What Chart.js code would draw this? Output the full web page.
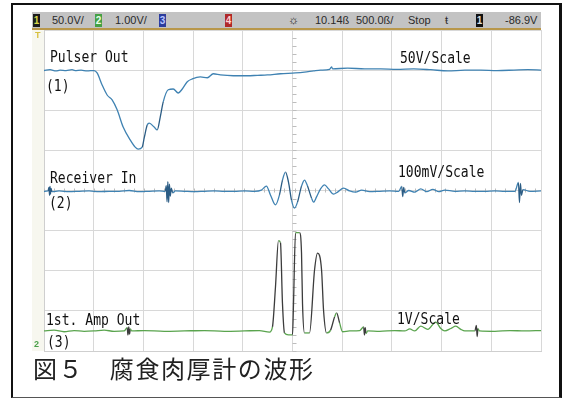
<!DOCTYPE html>
<html>
<head>
<meta charset="utf-8">
<script src="https://cdn.jsdelivr.net/npm/chart.js"></script>
<style>
  body{margin:0;width:567px;height:399px;background:#fff;position:relative;overflow:hidden;}
  #frame{position:absolute;left:11px;top:3px;width:546px;height:392px;border:2px solid #111;border-right-width:3px;border-bottom:1px solid #555;}
  #bar{position:absolute;left:32px;top:12px;width:509px;height:17px;background:#c3c3c3;}
  #gold{position:absolute;left:32px;top:28px;width:509px;height:2px;background:#b8974a;}
  #strip{position:absolute;left:32px;top:30px;width:12px;height:321px;background:#f7f7ef;}
  .st{position:absolute;top:14px;font:11px "Liberation Sans",sans-serif;color:#2a2a2a;line-height:13px;white-space:nowrap;}
  .bd{position:absolute;top:14px;width:7px;height:13px;font:bold 10px "Liberation Sans",sans-serif;line-height:13px;text-align:center;}
  .lb{position:absolute;font:15px "DejaVu Sans Mono",monospace;line-height:15px;color:#111;white-space:nowrap;transform:scaleX(0.87);transform-origin:0 0;}
  #cap{position:absolute;left:33px;top:356px;font:24px "Noto Sans CJK JP",sans-serif;line-height:24px;letter-spacing:1.6px;color:#222;white-space:nowrap;}
  #chart{position:absolute;left:0;top:0;}
  .mk{position:absolute;font:bold 9px "Liberation Sans",sans-serif;line-height:9px;}
</style>
</head>
<body>
<div id="frame"></div>
<div id="bar"></div>
<div id="gold"></div>
<div id="strip"></div>

<div class="bd" style="left:33px;background:#1c1c1c;color:#d8d84a">1</div>
<div class="st" style="left:52px">50.0V/</div>
<div class="bd" style="left:95px;background:#45a045;color:#e8ffe8">2</div>
<div class="st" style="left:115px">1.00V/</div>
<div class="bd" style="left:159px;background:#2c3c9c;color:#b8c4ff">3</div>
<div class="bd" style="left:225px;background:#b02828;color:#ffd0d0">4</div>
<div class="st" style="left:288px;font-size:12px">☼</div>
<div class="st" style="left:315px">10.14ß</div>
<div class="st" style="left:356px">500.0ß/</div>
<div class="st" style="left:408px">Stop</div>
<div class="st" style="left:445px">ŧ</div>
<div class="bd" style="left:476px;background:#111;color:#ddd">1</div>
<div class="st" style="left:505px">-86.9V</div>

<canvas id="chart" width="567" height="399"></canvas>

<div class="mk" style="left:35px;top:31px;color:#d8c040">T</div>
<div class="mk" style="left:34px;top:340px;color:#4aa04a">2</div>

<div class="lb" style="left:50px;top:50px">Pulser Out</div>
<div class="lb" style="left:46px;top:79px">(1)</div>
<div class="lb" style="left:400px;top:51px">50V/Scale</div>
<div class="lb" style="left:50px;top:171px">Receiver In</div>
<div class="lb" style="left:49px;top:196px">(2)</div>
<div class="lb" style="left:398px;top:165px">100mV/Scale</div>
<div class="lb" style="left:46px;top:313px">1st. Amp Out</div>
<div class="lb" style="left:47px;top:335px">(3)</div>
<div class="lb" style="left:397px;top:312px">1V/Scale</div>

<div id="cap">図５　腐食肉厚計の波形</div>

<script>
// time in ns, level in screen divisions (0 = centre line)
const pulserOut = [
  [0,2.99],[60,3.01],[120,2.98],[160,3.00],[220,2.99],[280,3.01],[310,2.99],[370,3.00],[430,2.98],[500,2.99],
  [530,2.93],[580,2.63],[630,2.38],[680,2.26],[730,2.01],[790,1.58],[860,1.26],[910,1.08],[940,1.03],[980,1.08],
  [1000,1.31],[1030,1.63],[1050,1.68],[1100,1.58],[1130,1.51],[1160,1.83],[1190,2.21],[1240,2.51],[1290,2.53],
  [1340,2.43],[1380,2.53],[1430,2.71],[1480,2.78],[1560,2.83],[1630,2.81],[1690,2.91],[1760,2.88],[1890,2.86],
  [2030,2.86],[2130,2.87],[2230,2.88],[2360,2.91],[2510,2.93],[2600,2.95],[2690,2.98],[2760,3.00],[2850,3.02],
  [2870,3.08],[2880,3.03],[3030,3.05],[3200,3.03],[3360,3.03],[3520,3.02],[3690,3.03],[3860,3.01],[4030,2.98],
  [4200,3.00],[4360,3.00],[4520,2.99],[4690,3.00],[4830,3.01],[4960,3.00]
];

const receiverIn = [
  [0,-0.02],[40,-0.01],[50,0.08],[55,-0.12],[60,0.10],[65,-0.09],[70,0.05],[80,-0.03],[150,-0.01],[250,-0.03],
  [350,-0.02],[450,-0.01],[550,-0.03],[650,-0.02],[750,-0.02],[850,0.00],[950,-0.03],[1050,-0.02],[1150,-0.01],
  [1210,-0.02],[1220,0.12],[1228,-0.28],[1236,0.22],[1244,-0.30],[1252,0.16],[1260,-0.14],[1270,0.06],[1285,-0.06],
  [1310,-0.01],[1400,-0.02],[1500,-0.03],[1600,-0.02],[1700,-0.01],[1800,-0.02],[1900,-0.02],[2000,-0.01],
  [2100,-0.02],[2170,0.01],[2220,0.11],[2260,-0.11],[2310,-0.36],[2350,-0.11],[2380,0.26],[2410,0.46],[2440,0.21],
  [2470,-0.24],[2500,-0.44],[2530,-0.29],[2570,0.11],[2600,0.26],[2630,0.11],[2670,-0.19],[2690,-0.29],[2720,-0.16],
  [2760,0.04],[2800,0.14],[2840,0.04],[2890,-0.09],[2930,-0.04],[2990,0.06],[3050,-0.01],[3110,-0.04],[3170,0.01],
  [3250,-0.03],[3350,-0.02],[3450,-0.01],[3540,-0.02],[3570,0.10],[3580,-0.15],[3590,0.08],[3600,-0.06],[3640,0.00],
  [3700,-0.04],[3760,0.04],[3820,-0.03],[3880,0.03],[3940,-0.03],[4000,0.01],[4100,-0.02],[4200,-0.01],[4300,-0.02],
  [4400,-0.02],[4500,-0.01],[4600,-0.02],[4700,-0.02],[4735,0.20],[4745,-0.30],[4755,0.18],[4765,-0.12],[4780,0.02],
  [4850,-0.02],[4960,-0.01]
];

const ampOut = [
  [0,-3.50],[100,-3.48],[200,-3.52],[300,-3.49],[400,-3.51],[500,-3.50],[600,-3.48],[700,-3.51],[800,-3.50],
  [830,-3.42],[838,-3.60],[846,-3.40],[854,-3.58],[862,-3.45],[875,-3.50],[1000,-3.49],[1200,-3.51],[1400,-3.50],
  [1600,-3.49],[1800,-3.51],[2000,-3.50],[2150,-3.49],[2250,-3.53],[2280,-3.40],[2310,-2.41],[2340,-1.25],
  [2360,-1.30],[2380,-2.82],[2400,-3.55],[2440,-3.60],[2480,-3.60],[2490,-2.82],[2510,-1.05],[2550,-1.05],
  [2570,-1.56],[2580,-2.82],[2600,-3.55],[2650,-3.55],[2700,-1.98],[2730,-1.56],[2770,-1.98],[2790,-2.99],
  [2820,-3.55],[2860,-3.48],[2900,-3.15],[2920,-3.05],[2950,-3.30],[2980,-3.52],[3050,-3.50],[3150,-3.49],
  [3190,-3.40],[3198,-3.60],[3206,-3.42],[3214,-3.56],[3230,-3.50],[3350,-3.51],[3500,-3.49],[3600,-3.50],
  [3650,-3.45],[3700,-3.50],[3760,-3.38],[3830,-3.46],[3910,-3.28],[3960,-3.44],[4000,-3.50],[4060,-3.44],
  [4110,-3.38],[4160,-3.46],[4200,-3.50],[4300,-3.50],[4315,-3.36],[4323,-3.64],[4331,-3.44],[4345,-3.50],
  [4500,-3.51],[4650,-3.49],[4800,-3.50],[4960,-3.49]
];

const timeMax = 4960;     // screen ends a little before the 10th division
const timePerDiv = 500;

function pts(arr){
  return arr.map(p => ({x:p[0], y:p[1]}));
}

// steep edges show darker on the scope
function edgeColor(base, dark){
  return c => {
    const dx = Math.abs(c.p1.x - c.p0.x), dy = Math.abs(c.p1.y - c.p0.y);
    return dy > dx * 3 ? dark : base;
  };
}

// little tick marks on the centre cross
const centreTicks = {
  id:'centreTicks',
  beforeDatasetsDraw(chart){
    const {ctx, scales:{x, y}} = chart;
    const cx = x.getPixelForValue(2500), cy = y.getPixelForValue(0);
    ctx.save();
    ctx.strokeStyle = '#bdbdbd';
    ctx.lineWidth = 1;
    ctx.beginPath();
    for(let v=-4; v<=4; v+=0.2){
      const py = Math.round(y.getPixelForValue(v)) + 0.5;
      ctx.moveTo(cx-2, py); ctx.lineTo(cx+2, py);
    }
    for(let t=0; t<=timeMax; t+=100){
      const px = Math.round(x.getPixelForValue(t)) + 0.5;
      ctx.moveTo(px, cy-2); ctx.lineTo(px, cy+2);
    }
    ctx.stroke();
    ctx.restore();
  }
};

const ctx = document.getElementById('chart');

new Chart(ctx, {
  type:'line',
  data:{
    datasets:[
      {label:'Pulser Out', data:pts(pulserOut), borderColor:'#3f82b2', borderWidth:1.3,
       segment:{borderColor:edgeColor('#3f82b2','#2b5c84')}},
      {label:'Receiver In', data:pts(receiverIn), borderColor:'#3f82b2', borderWidth:1.3,
       segment:{borderColor:edgeColor('#3f82b2','#2b5c84')}},
      {label:'1st. Amp Out', data:pts(ampOut), borderColor:'#5aa44e', borderWidth:1.3,
       segment:{borderColor:edgeColor('#5aa44e','#3c3c3c')}}
    ]
  },
  options:{
    responsive:false,
    animation:false,
    devicePixelRatio:1,
    layout:{padding:{left:44, top:30, right:26, bottom:48}},
    elements:{point:{radius:0}, line:{cubicInterpolationMode:'monotone'}},
    plugins:{legend:{display:false}, tooltip:{enabled:false}},
    scales:{
      x:{type:'linear', min:0, max:timeMax,
         ticks:{display:false, stepSize:timePerDiv},
         grid:{color:'#d8d8d8', drawTicks:false},
         border:{color:'#cfcfcf'}},
      y:{type:'linear', min:-4, max:4,
         ticks:{display:false, stepSize:1},
         grid:{color:'#d8d8d8', drawTicks:false},
         border:{color:'#cfcfcf'}}
    }
  },
  plugins:[centreTicks]
});
</script>
</body>
</html>
